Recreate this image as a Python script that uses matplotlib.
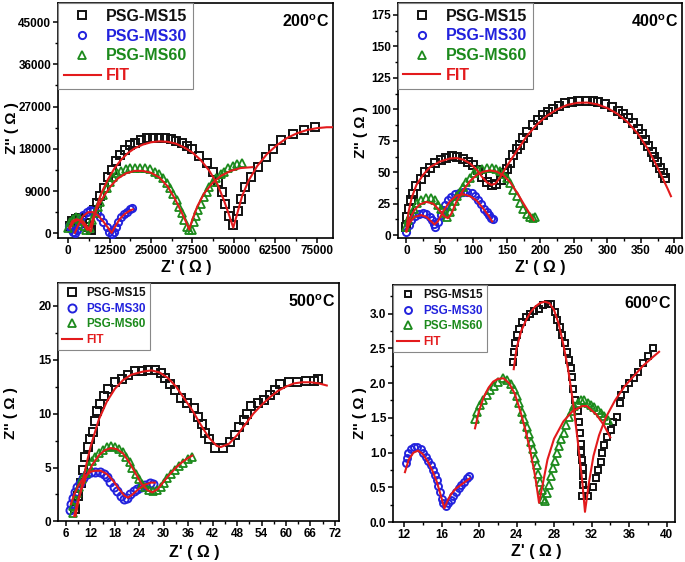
import matplotlib
matplotlib.use("Agg")
import matplotlib.pyplot as plt
from matplotlib.ticker import MultipleLocator, FormatStrFormatter
from matplotlib.lines import Line2D

plt.rcParams['font.family'] = ['Liberation Sans', 'DejaVu Sans']
plt.rcParams['font.weight'] = 'bold'
plt.rcParams['mathtext.fontset'] = 'custom'
plt.rcParams['mathtext.rm'] = 'Liberation Sans:bold'

BLACK = '#111111'
BLUE = '#2222dd'
GREEN = '#1c8a1c'
RED = '#e31a1c'

# ---------------- 200 C ----------------
t200_ms15_x = [500, 1200, 2200, 3200, 4300, 5300, 6300, 7000, 7850, 8550, 9560, 10870, 12070, 13080, 14390, 15590,
               17100, 18610, 20120, 21930, 23640, 25650, 27360, 29170, 30980, 32390, 34200, 35710, 37220, 39530,
               41950, 43560, 45170, 46370, 47180, 48390, 49800, 51210, 52010, 53220, 55130, 57240, 59660, 61670,
               64290, 67810, 71030, 74450]
t200_ms15_y = [1500, 2600, 3100, 3200, 2900, 2300, 1400, 700, 4960, 6520, 7940, 9570, 11910, 13470, 15460, 16660,
               17720, 18790, 19290, 19850, 20200, 20350, 20350, 20200, 19990, 19710, 19140, 18580, 17870, 16440,
               14890, 12970, 10850, 8860, 6240, 3690, 1840, 4820, 7230, 9930, 12050, 14180, 16300, 17870,
               19850, 21060, 21980, 22690]
t200_ms30_x = [300, 900, 1500, 2100, 2600, 3100, 3600, 4530, 5530, 6540, 7540, 8550, 9560, 10560, 11570, 12370,
               13080, 13780, 14390, 15090, 15900, 16800, 17610, 18610, 19320]
t200_ms30_y = [1500, 1000, 300, 100, 800, 1800, 2800, 3900, 4610, 4960, 4820, 4250, 3550, 2480, 1420, 350,
               -100, 350, 1420, 2480, 3400, 4040, 4610, 5100, 5460]
t200_ms60_x = [0, 500, 1300, 2200, 3100, 4000, 4800, 5500, 6540, 7240, 8050, 8850, 9560, 10560, 11570, 12580,
               13580, 14590, 15900, 17300, 18610, 20120, 21630, 23140, 24650, 26160, 27360, 28670, 29670, 30680,
               31680, 32690, 33390, 34200, 35000, 35710, 36420, 37220, 37930, 38530, 39230, 39940, 40940, 41750,
               42550, 43560, 44570, 45970, 46980, 48290, 49590, 51000, 52310]
t200_ms60_y = [1060, 2480, 3120, 3550, 3330, 2690, 1560, 710, 1060, 2840, 4250, 5530, 6740, 8150, 9570, 10990,
               12050, 12760, 13260, 13610, 13830, 13970, 13970, 13970, 13610, 13120, 12550, 11700, 10640, 9570,
               8370, 7090, 5670, 4250, 2840, 1420, 710, 710, 2480, 3690, 4960, 6240, 7800, 8860,
               9930, 10990, 11840, 12620, 13120, 13830, 14390, 14750, 15030]
t200_fit15_x = [500, 1500, 3000, 4500, 5800, 6800, 7500, 8500, 10000, 12000, 14000, 16000, 18000, 20000, 22500,
                25000, 27500, 30000, 32500, 35000, 37500, 40000, 42500, 45000, 47000, 48500, 49800, 51000, 52500,
                54500, 57000, 60000, 63000, 66000, 69000, 72000, 75000, 78000, 80000]
t200_fit15_y = [1000, 2400, 2900, 2500, 1300, 400, 2500, 5500, 8600, 11500, 13900, 15700, 17100, 18100, 18900,
                19400, 19600, 19500, 19100, 18300, 17200, 15600, 13400, 10500, 7000, 4000, 1200, 4200, 8000,
                11300, 14300, 16900, 18800, 20300, 21300, 22000, 22400, 22600, 22600]
t200_fit30_x = [2000, 3000, 4500, 6000, 7500, 9000, 10500, 12000, 13100, 14200, 15500, 17000, 18500, 19500]
t200_fit30_y = [100, 1700, 3700, 4500, 4500, 3800, 2600, 1200, 100, 1500, 3000, 4100, 4800, 5100]
t200_fit60_x = [300, 1200, 2500, 3800, 5000, 5800, 6500, 7500, 9000, 11000, 13000, 15000, 17500, 20000, 22500,
                25000, 27500, 30000, 32000, 34000, 35500, 36500, 37500, 39000, 41000, 43500, 46000, 49000, 52000,
                55600]
t200_fit60_y = [1200, 2600, 3000, 2600, 1500, 700, 1200, 3300, 5800, 8200, 10200, 11700, 12800, 13300, 13300,
                12900, 11900, 10000, 7600, 4800, 2500, 800, 3000, 5800, 8500, 10700, 12200, 13300, 13900,
                14100]

# ---------------- 400 C ----------------
t400_ms15_x = [0, 1.5, 3.5, 6.5, 10, 15, 21.4, 28.4, 34.9, 42.4, 51.3, 59.8, 68.3, 76.2, 84.7, 92.2, 99.7, 106.2,
               113.2, 119.6, 127.1, 134.5, 141, 146, 150, 154.5, 159.4, 164.4, 169.4, 174.4, 180.4, 189.3, 196.8,
               204.3, 211.8, 219.3, 228.2, 236.7, 246.6, 256.6, 269.1, 279, 286.5, 296.5, 306.4, 316.4, 323.9,
               331.3, 338.8, 346.3, 351.3, 356.3, 361.2, 366.2, 369.7, 373.7, 378.6, 382.6, 386.1]
t400_ms15_y = [6.6, 14.6, 21.2, 27.8, 33.1, 38.9, 45, 50.4, 53.8, 57, 59.7, 61.5, 62.8, 61.8, 60.4, 58.3, 55.7, 51.7,
               46.4, 42.4, 39.8, 40.3, 43.8, 49.1, 53, 57, 63.6, 68.2, 71.6, 76.9, 82.2, 87.5, 91.5,
               95.5, 98.1, 100, 102.6, 104.7, 106.1, 106.9, 106.9, 106.6, 105.6, 104.2, 101.6, 99, 96.3,
               92.8, 88.8, 84.1, 80.1, 75.6, 70.8, 66.3, 62.3, 58.3, 53.8, 49.6, 45.1]
t400_ms30_x = [0, 3.5, 7.5, 12.5, 18.4, 24.9, 29.9, 34.9, 38.4, 41.4, 43.4, 47.3, 51.3, 54.8, 58.3, 62.3, 67.3,
               72.2, 78.2, 84.7, 91.2, 97.2, 102.1, 107.1, 112.1, 116.1, 120.1, 124, 127, 129]
t400_ms30_y = [2.7, 8, 11.9, 15.1, 17.2, 17.8, 16.7, 14.6, 11.9, 8.8, 6.6, 10.6, 15.9, 20.4, 23.9, 27.8, 30.5,
               32.4, 33.7, 34.5, 34.5, 33.2, 31.1, 27.8, 24.7, 21.2, 18.5, 16, 14, 13]
t400_ms60_x = [0, 2.5, 6.5, 11.5, 16.4, 22.4, 29.9, 36.4, 42.4, 47.3, 52.3, 57.3, 61.3, 64.8, 68.3, 72.2, 76.2,
               80.2, 84.7, 89.7, 94.7, 101.1, 107.1, 113.1, 119.6, 127.1, 133.1, 139.5, 144.5, 149.5, 154.5,
               159.4, 164.4, 169.4, 174.4, 179.4, 184.4, 189.3, 192.5]
t400_ms60_y = [6.6, 11.9, 17.2, 21.2, 25.2, 27.8, 29.7, 29.7, 27.6, 24.4, 21.2, 17.8, 14.6, 18.6, 23.1, 27.3, 31,
               34.5, 38.5, 42.4, 45.6, 49.1, 51.7, 53, 53.8, 53.8, 53, 51.2, 48.5, 45.1, 41.1,
               36.3, 31, 25.7, 21.2, 17.2, 14.6, 13.5, 14.5]
t400_fit15_x = [0, 3, 8, 15, 25, 35, 50, 65, 75, 85, 95, 105, 112, 120, 127, 133, 140, 150, 160, 170, 180, 195,
                210, 225, 240, 255, 270, 285, 300, 315, 330, 345, 360, 372, 382, 390, 395]
t400_fit15_y = [3, 18, 30, 40, 48, 54, 58.5, 61, 61.3, 60, 57, 52, 47, 42, 40, 41, 46, 55, 63, 71, 79, 88,
                95, 100, 103.5, 105.2, 105.4, 104, 101, 96.5, 90, 81, 69, 57, 46, 37, 31]
t400_fit30_x = [0, 5, 12, 22, 30, 37, 42, 47, 55, 65, 75, 85, 95, 105, 115, 122, 128]
t400_fit30_y = [3, 10, 14.5, 16, 14.5, 11, 8.5, 11, 19, 27, 31.5, 32.5, 31, 27.5, 21, 16, 11]
t400_fit60_x = [0, 5, 12, 20, 30, 40, 50, 57, 62, 67, 75, 85, 95, 105, 115, 125, 135, 145, 155, 165, 175, 183, 190]
t400_fit60_y = [4, 13, 20, 24.5, 26.5, 25, 19.5, 15, 13.5, 17, 27, 36, 43, 48, 50.5, 51.5, 50.5, 47.5, 42, 34,
                25, 18, 12]

# ---------------- 500 C ----------------
t500_ms15_x = [8.3, 9.0, 9.6, 10.1, 10.7, 11.4, 11.9, 12.5, 13.0, 13.6, 14.4, 15.2, 16.4, 18.0, 19.7, 21.3, 23.0,
               24.6, 26.2, 27.8, 29.2, 30.4, 31.6, 32.8, 34.3, 35.7, 37.3, 38.5, 39.3, 40.1, 41.2, 42.6, 44.6,
               46.2, 47.4, 48.5, 49.6, 50.5, 51.4, 53.1, 54.7, 56.1, 57.2, 58.5, 60.7, 62.6, 64.8, 66.8, 67.9]
t500_ms15_y = [1.2, 2.4, 3.6, 4.8, 6.0, 6.9, 7.6, 8.3, 9.3, 10.2, 10.9, 11.6, 12.3, 12.9, 13.2, 13.6, 13.9,
               13.9, 14.0, 14.0, 13.8, 13.3, 12.7, 12.2, 11.4, 11.0, 10.5, 9.7, 9.0, 8.2, 7.6, 6.8, 6.8,
               7.4, 8.0, 8.8, 9.4, 10.0, 10.7, 11.0, 11.3, 11.7, 12.2, 12.7, 12.9, 12.9, 13.0, 13.0, 13.2]
t500_ms30_x = [7.0, 7.2, 7.6, 8.1, 8.7, 9.4, 10.2, 11.1, 12.1, 13.2, 14.4, 15.3, 16.1, 16.9, 17.7, 18.5, 19.4,
               20.2, 21.0, 21.8, 22.6, 23.5, 24.5, 25.5, 26.5, 27.3]
t500_ms30_y = [1.1, 1.6, 2.2, 2.7, 3.2, 3.6, 4.0, 4.4, 4.6, 4.6, 4.6, 4.4, 4.1, 3.7, 3.2, 2.8, 2.4,
               2.1, 2.2, 2.5, 2.8, 3.0, 3.2, 3.4, 3.6, 3.5]
t500_ms60_x = [7.6, 7.8, 8.2, 8.7, 9.2, 10.0, 10.8, 11.6, 12.4, 13.2, 14.0, 15.0, 16.0, 17.0, 18.0, 19.0, 19.9,
               20.8, 21.6, 22.3, 23.1, 23.9, 24.6, 25.4, 26.3, 27.3, 28.3, 29.2, 30.0, 30.8, 31.8, 32.8, 33.8,
               34.8, 35.9, 36.9]
t500_ms60_y = [0.8, 1.4, 2.0, 2.6, 3.2, 3.9, 4.5, 5.1, 5.6, 6.0, 6.3, 6.6, 6.9, 7.0, 6.9, 6.7, 6.4,
               6.0, 5.5, 5.0, 4.4, 3.9, 3.5, 3.2, 2.9, 2.8, 2.9, 3.2, 3.6, 4.0, 4.4, 4.8, 5.1,
               5.4, 5.8, 6.0]
t500_fit15_x = [8.3, 9, 10, 11, 12, 14, 16, 18, 20, 22, 25, 27, 29, 31, 33, 35, 37, 39, 41, 43, 44, 46, 48, 50,
                52, 54, 56, 58, 60, 62, 64, 66, 68, 70]
t500_fit15_y = [0.5, 1.8, 3.5, 5.3, 6.9, 9.4, 11.1, 12.3, 13.1, 13.6, 13.9, 14.0, 13.8, 13.3, 12.5, 11.4, 10.3,
                9.0, 7.8, 7.0, 6.9, 7.2, 8.0, 9.0, 10.0, 10.8, 11.5, 12.1, 12.5, 12.8, 12.9, 12.9, 12.8, 12.6]
t500_fit30_x = [7.2, 8.0, 9.0, 10.0, 11.0, 12.0, 13.0, 14.5, 16.0, 17.5, 19.0, 20.3, 21.2, 22.3, 23.8, 25.3, 26.8, 27.8]
t500_fit30_y = [1.6, 2.5, 3.3, 3.9, 4.3, 4.6, 4.7, 4.7, 4.4, 3.8, 3.0, 2.4, 2.2, 2.5, 3.0, 3.4, 3.6, 3.6]
t500_fit60_x = [8.0, 8.8, 9.8, 11, 12.5, 14, 15.5, 17, 18.5, 20, 21.5, 23, 24.5, 26, 27.2, 28.5, 30, 31.5, 33,
                34.5, 36, 37]
t500_fit60_y = [0.5, 1.8, 3.0, 4.2, 5.3, 6.1, 6.6, 6.8, 6.7, 6.3, 5.5, 4.5, 3.5, 2.9, 2.7, 3.0, 3.7, 4.4, 5.0,
                5.5, 5.9, 6.1]

# ---------------- 600 C ----------------
t600_ms15_x = [23.66, 23.73, 23.83, 24.01, 24.26, 24.62, 25.01, 25.43, 25.86, 26.39, 26.85, 27.39, 27.67, 28.10,
               28.35, 28.63, 28.88, 29.16, 29.41, 29.63, 29.77, 29.87, 29.98, 30.23, 30.59, 30.69, 30.76, 30.83,
               30.90, 30.98, 31.05, 31.12, 31.12, 30.94, 31.40, 31.65, 32.18, 32.47, 32.72, 32.97, 33.07, 33.32,
               33.61, 34.03, 34.32, 34.67, 35.03, 35.13, 35.56, 36.02, 36.52, 36.98, 37.52, 38.05, 38.51]
t600_ms15_y = [2.31, 2.45, 2.57, 2.69, 2.78, 2.88, 2.95, 3.00, 3.04, 3.07, 3.12, 3.13, 3.13, 3.02,
               2.91, 2.81, 2.69, 2.57, 2.45, 2.33, 2.21, 2.09, 1.92, 1.76, 1.60, 1.44, 1.28, 1.13,
               1.01, 0.89, 0.78, 0.66, 0.54, 0.38, 0.47, 0.38, 0.51, 0.63, 0.75, 0.86, 0.99, 1.11,
               1.23, 1.33, 1.44, 1.52, 1.71, 1.83, 1.92, 2.00, 2.07, 2.16, 2.29, 2.39, 2.50]
t600_ms30_x = [12.21, 12.28, 12.46, 12.71, 13.07, 13.42, 13.78, 14.06, 14.35, 14.59, 14.84, 15.06, 15.27, 15.48,
               15.66, 15.84, 16.02, 16.19, 16.48, 16.73, 16.98, 17.26, 17.54, 17.83, 18.11, 18.40, 18.68, 18.97]
t600_ms30_y = [0.85, 0.92, 0.99, 1.05, 1.08, 1.08, 1.05, 1.00, 0.94, 0.88, 0.82, 0.75, 0.68, 0.61,
               0.52, 0.43, 0.34, 0.28, 0.24, 0.27, 0.32, 0.38, 0.44, 0.49, 0.54, 0.58, 0.63, 0.66]
t600_ms60_x = [19.57, 19.82, 20.10, 20.46, 20.81, 21.17, 21.59, 22.06, 22.59, 23.02, 23.37, 23.73, 24.01, 24.30,
               24.58, 24.83, 25.08, 25.29, 25.50, 25.72, 25.93, 26.14, 26.32, 26.50, 26.68, 26.78, 27.00, 27.21,
               27.46, 27.67, 27.88, 28.10, 28.31, 28.52, 28.77, 29.02, 29.31, 29.59, 29.87, 30.16, 30.51, 30.87,
               31.22, 31.58, 31.94, 32.29, 32.65, 33.00, 33.36, 33.78]
t600_ms60_y = [1.49, 1.59, 1.68, 1.76, 1.83, 1.90, 1.96, 2.02, 2.08, 2.04, 1.99, 1.91, 1.81, 1.71,
               1.59, 1.48, 1.37, 1.27, 1.16, 1.05, 0.93, 0.82, 0.70, 0.58, 0.46, 0.34, 0.31, 0.42,
               0.54, 0.66, 0.78, 0.88, 0.99, 1.10, 1.19, 1.29, 1.40, 1.51, 1.60, 1.67, 1.72, 1.76,
               1.75, 1.72, 1.68, 1.65, 1.61, 1.57, 1.53, 1.47]
t600_fit15_x = [23.7, 24.0, 24.5, 25.0, 25.5, 26.0, 26.5, 27.0, 27.5, 28.0, 28.5, 29.0, 29.5, 30.0, 30.5, 31.0,
                31.3, 31.7, 32.2, 32.8, 33.5, 34.5, 35.5, 36.5, 37.5, 38.5, 39.2]
t600_fit15_y = [2.2, 2.5, 2.75, 2.9, 3.02, 3.1, 3.15, 3.17, 3.15, 3.05, 2.85, 2.55, 2.2, 1.75, 1.2, 0.6,
                0.15, 0.55, 0.95, 1.25, 1.5, 1.75, 1.95, 2.1, 2.25, 2.37, 2.45]
t600_fit30_x = [12.1, 12.5, 13.0, 13.5, 14.0, 14.5, 15.0, 15.5, 16.0, 16.3, 16.6, 17.0, 17.5, 18.0, 18.5, 19.0]
t600_fit30_y = [0.72, 0.9, 1.0, 1.03, 0.98, 0.88, 0.75, 0.58, 0.35, 0.2, 0.3, 0.4, 0.48, 0.53, 0.58, 0.63]
t600_fit60_x = [19.57, 20.0, 20.5, 21.0, 21.5, 22.0, 22.6, 23.2, 23.8, 24.4, 25.0, 25.5, 26.0, 26.4, 26.8, 27.3,
                28.0, 29.0, 30.0, 31.0, 31.5, 32.5, 33.3, 34.0]
t600_fit60_y = [1.35, 1.6, 1.8, 1.93, 2.02, 2.06, 2.07, 2.0, 1.85, 1.6, 1.3, 1.0, 0.65, 0.28, 0.55, 0.9,
                1.2, 1.45, 1.6, 1.67, 1.67, 1.55, 1.4, 1.22]

labels = ['PSG-MS15', 'PSG-MS30', 'PSG-MS60', 'FIT']
titles = ['200', '400', '500', '600']

fig = plt.figure(figsize=(6.85, 5.62), dpi=100)
rects = [[0.0851, 0.5765, 0.4015, 0.4176],
         [0.5806, 0.5770, 0.4155, 0.4176],
         [0.0851, 0.0721, 0.4098, 0.4244],
         [0.5742, 0.0707, 0.4112, 0.4222]]

panels = [
    (t200_ms15_x, t200_ms15_y, t200_ms30_x, t200_ms30_y, t200_ms60_x, t200_ms60_y,
     [(t200_fit15_x, t200_fit15_y), (t200_fit30_x, t200_fit30_y), (t200_fit60_x, t200_fit60_y)]),
    (t400_ms15_x, t400_ms15_y, t400_ms30_x, t400_ms30_y, t400_ms60_x, t400_ms60_y,
     [(t400_fit15_x, t400_fit15_y), (t400_fit30_x, t400_fit30_y), (t400_fit60_x, t400_fit60_y)]),
    (t500_ms15_x, t500_ms15_y, t500_ms30_x, t500_ms30_y, t500_ms60_x, t500_ms60_y,
     [(t500_fit15_x, t500_fit15_y), (t500_fit30_x, t500_fit30_y), (t500_fit60_x, t500_fit60_y)]),
    (t600_ms15_x, t600_ms15_y, t600_ms30_x, t600_ms30_y, t600_ms60_x, t600_ms60_y,
     [(t600_fit15_x, t600_fit15_y), (t600_fit30_x, t600_fit30_y), (t600_fit60_x, t600_fit60_y)]),
]

xlims = [(-3000, 80000), (-13, 412), (4.1, 73), (10.86, 40.9)]
ylims = [(-1000, 49000), (-2, 184.5), (0, 22.1), (0, 3.41)]
xmaj = [12500, 50, 6, 4]
ymaj = [9000, 25, 5, 0.5]
xstart = [0, 0, 6, 12]
leg_fs = [11.5, 11.5, 8.5, 8.5]
leg_hl = [2.3, 2.3, 1.7, 1.8]
msz = [5.2, 5.2, 5.8, 5.0]
xlab_pos = [(0.464, -0.124), (0.50, -0.125), (0.483, -0.132), (0.507, -0.124)]
ylab_pos = [(-0.167, 0.47), (-0.128, 0.45), (-0.168, 0.455), (-0.118, 0.46)]

for i, ax in enumerate([fig.add_axes(r) for r in rects]):
    ms15x, ms15y, ms30x, ms30y, ms60x, ms60y, fits = panels[i]
    ax.plot(ms15x, ms15y, ls='none', marker='s', ms=msz[i], mfc='none', mec=BLACK, mew=1.4, zorder=3)
    ax.plot(ms30x, ms30y, ls='none', marker='o', ms=msz[i], mfc='none', mec=BLUE, mew=1.4, zorder=3)
    ax.plot(ms60x, ms60y, ls='none', marker='^', ms=msz[i] + 0.6, mfc='none', mec=GREEN, mew=1.3, zorder=3)
    for fx, fy in fits:
        ax.plot(fx, fy, color=RED, lw=1.5, zorder=4)
    ax.set_xlim(*xlims[i])
    ax.set_ylim(*ylims[i])
    ax.xaxis.set_major_locator(MultipleLocator(xmaj[i], offset=xstart[i] % xmaj[i]))
    ax.xaxis.set_minor_locator(MultipleLocator(xmaj[i] / 2.0, offset=(xstart[i] % xmaj[i])))
    ax.yaxis.set_major_locator(MultipleLocator(ymaj[i]))
    ax.yaxis.set_minor_locator(MultipleLocator(ymaj[i] / 2.0))
    if i == 3:
        ax.yaxis.set_major_formatter(FormatStrFormatter('%.1f'))
    for s in ax.spines.values():
        s.set_linewidth(1.2)
    ax.tick_params(which='major', direction='out', length=3.5, width=1.1, labelsize=8.5, pad=1.5)
    ax.tick_params(which='minor', direction='out', length=2, width=1.0)
    for lab in ax.get_xticklabels() + ax.get_yticklabels():
        lab.set_fontweight('bold')
    ax.set_xlabel("Z' ( \u03a9 )", fontsize=11.5, fontweight='bold', va='center')
    ax.set_ylabel("Z'' ( \u03a9 )", fontsize=11, fontweight='bold', va='center')
    ax.xaxis.set_label_coords(*xlab_pos[i])
    ax.yaxis.set_label_coords(*ylab_pos[i])
    ax.text(0.985, 0.955, titles[i] + r'$^{\mathrm{o}}$C', transform=ax.transAxes, ha='right', va='top',
            fontsize=11.5, fontweight='bold')
    handles = [Line2D([], [], ls='none', marker='s', ms=msz[i], mfc='none', mec=BLACK, mew=1.4),
               Line2D([], [], ls='none', marker='o', ms=msz[i], mfc='none', mec=BLUE, mew=1.4),
               Line2D([], [], ls='none', marker='^', ms=msz[i] + 0.6, mfc='none', mec=GREEN, mew=1.3),
               Line2D([], [], color=RED, lw=1.5)]
    leg = ax.legend(handles, labels, loc='upper left', bbox_to_anchor=(0, 1), borderaxespad=0,
                    handlelength=leg_hl[i], handletextpad=0.35, labelspacing=0.3,
                    borderpad=0.35, frameon=True, fancybox=False, edgecolor='#888888', framealpha=1,
                    prop={'weight': 'bold', 'size': leg_fs[i]})
    leg.get_frame().set_linewidth(0.8)
    for t, c in zip(leg.get_texts(), [BLACK, BLUE, GREEN, RED]):
        t.set_color(c)

fig.savefig('out.png', dpi=100)
